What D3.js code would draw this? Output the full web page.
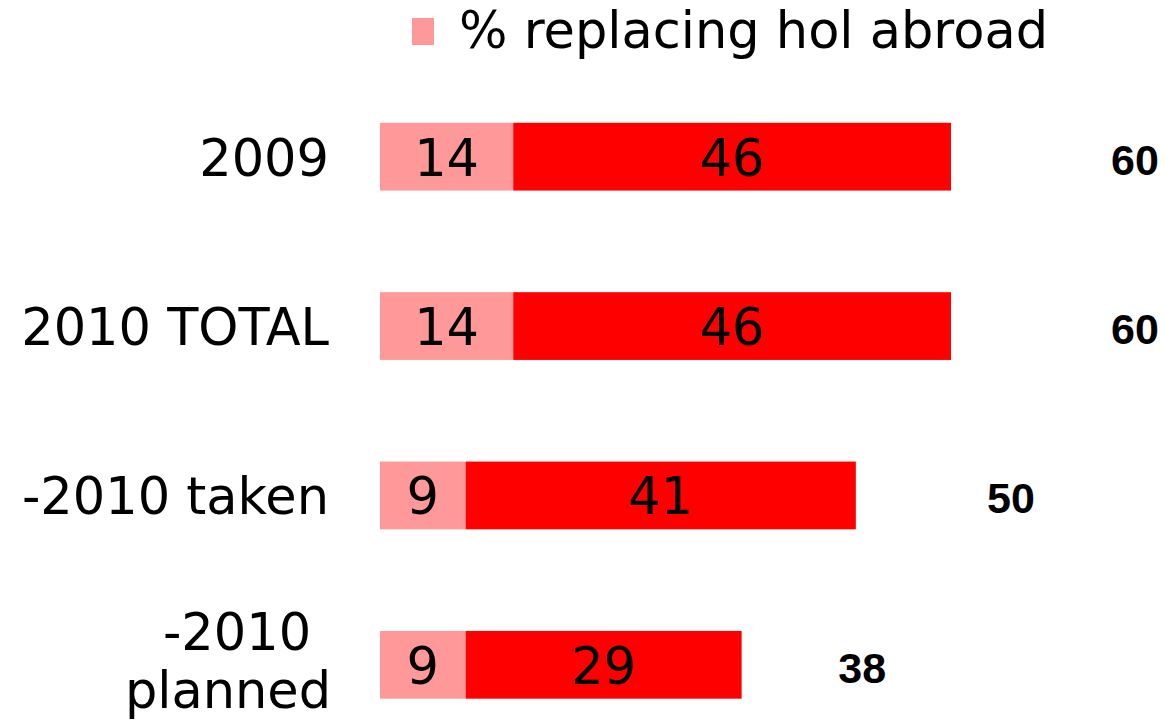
<!DOCTYPE html>
<html>
<head>
<meta charset="utf-8">
<script src="https://cdn.jsdelivr.net/npm/d3@7"></script>
<style>
  html, body { margin: 0; padding: 0; background: #fff; }
  svg { display: block; }
</style>
</head>
<body>
<svg id="chart" width="1165" height="721"></svg>
<script>
// Categories (rows) and stacked series values
const categories = ["2009", "2010 TOTAL", "-2010 taken", "-2010 planned"];
const replacingAbroad = [14, 14, 9, 9];
const otherShare = [46, 46, 41, 29];
const totals = [60, 60, 50, 38];
const legendLabel = "% replacing hol abroad";

const colors = { abroad: "#FF9999", other: "#FF0000" };
const labelFont = "'DejaVu Sans', Verdana, sans-serif";
const totalFont = "'Liberation Sans', Arial, sans-serif";

const svg = d3.select("#chart");

const x = d3.scaleLinear().domain([0, 60]).range([380, 951]);
const y = d3.scaleBand().domain(categories)
  .range([72, 749.5]).paddingInner(0.6).paddingOuter(0.3);
// total labels sit on their own offset scale to the right of the bars
const xTotal = d3.scaleLinear().domain([0, 60]).range([391, 1135]);

const rows = categories.map((c, i) => ({
  cat: c, a: replacingAbroad[i], b: otherShare[i], total: totals[i]
}));

// Pink segment
svg.append("g").selectAll("rect").data(rows).join("rect")
  .attr("x", x(0))
  .attr("y", d => y(d.cat))
  .attr("width", d => x(d.a) - x(0))
  .attr("height", y.bandwidth())
  .attr("fill", colors.abroad);

// Red segment stacked after it
svg.append("g").selectAll("rect").data(rows).join("rect")
  .attr("x", d => x(d.a))
  .attr("y", d => y(d.cat))
  .attr("width", d => x(d.a + d.b) - x(d.a))
  .attr("height", y.bandwidth())
  .attr("fill", colors.other);

const mid = d => y(d.cat) + y.bandwidth() / 2;

// Segment value labels
const seg = svg.append("g")
  .attr("font-family", labelFont).attr("font-size", 51)
  .attr("fill", "#000").attr("text-anchor", "middle");
seg.selectAll("text.a").data(rows).join("text").attr("class", "a")
  .attr("x", d => (x(0) + x(d.a)) / 2)
  .attr("y", d => mid(d) + 19)
  .text(d => d.a);
seg.selectAll("text.b").data(rows).join("text").attr("class", "b")
  .attr("x", d => (x(d.a) + x(d.a + d.b)) / 2)
  .attr("y", d => mid(d) + 19)
  .text(d => d.b);

// Category labels (the last one wraps onto two centred lines)
const cat = svg.append("g")
  .attr("font-family", labelFont).attr("font-size", 51).attr("fill", "#000");
rows.forEach((d, i) => {
  if (i === rows.length - 1) {
    const parts = d.cat.split(" ");
    const t = cat.append("text").attr("text-anchor", "middle");
    t.append("tspan").attr("x", 237).attr("y", mid(d) - 15).text(parts[0]);
    t.append("tspan").attr("x", 228).attr("y", mid(d) + 43).text(parts[1]);
  } else {
    cat.append("text").attr("text-anchor", "end")
      .attr("x", 329).attr("y", mid(d) + 19).text(d.cat);
  }
});

// Totals in bold to the right
svg.append("g").selectAll("text").data(rows).join("text")
  .attr("font-family", totalFont).attr("font-size", 43).attr("font-weight", "bold")
  .attr("text-anchor", "middle")
  .attr("x", d => xTotal(d.total))
  .attr("y", d => mid(d) + 18)
  .text(d => d.total);

// Legend
const lg = svg.append("g");
lg.append("rect").attr("x", 412).attr("y", 18).attr("width", 22).attr("height", 27)
  .attr("fill", colors.abroad);
lg.append("text").attr("x", 459).attr("y", 48)
  .attr("font-family", labelFont).attr("font-size", 51).attr("fill", "#000")
  .text(legendLabel);
</script>
</body>
</html>
